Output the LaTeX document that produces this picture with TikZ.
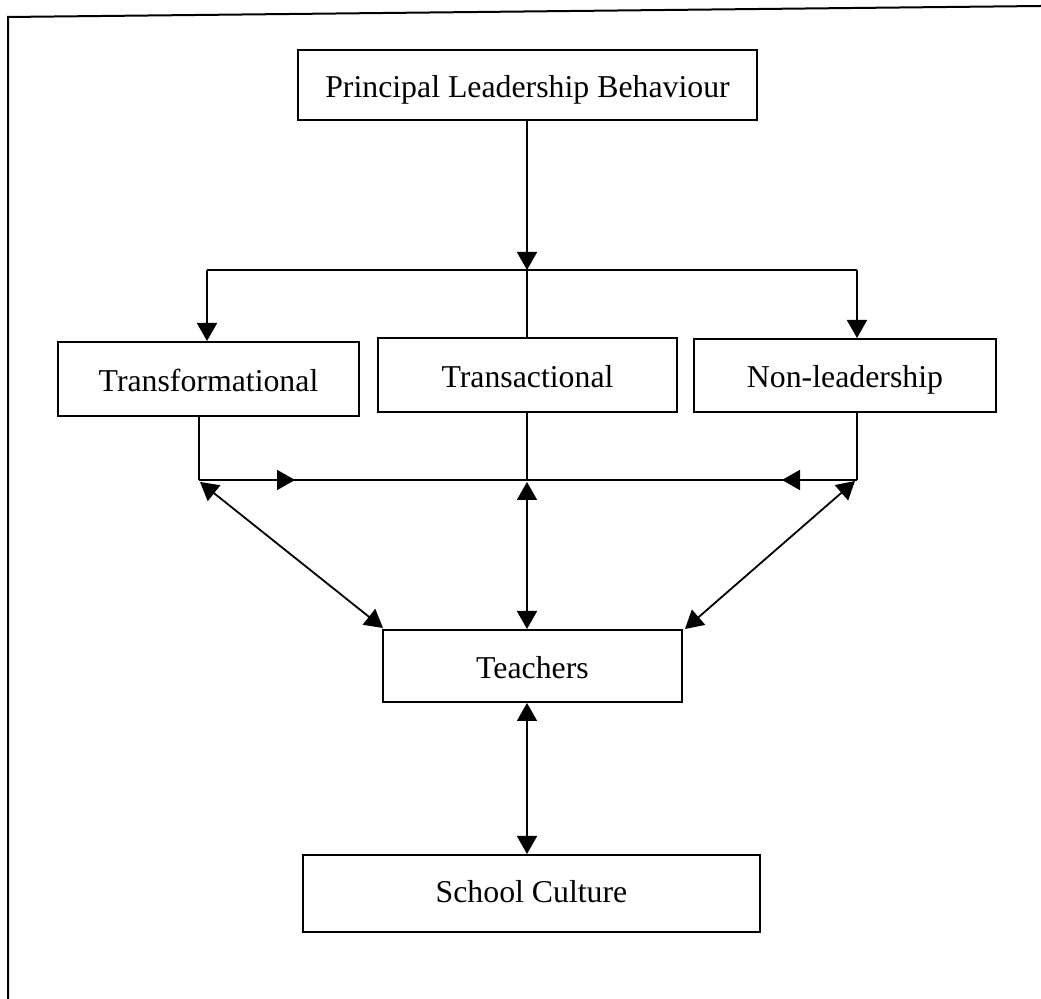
\documentclass[tikz,border=0pt]{standalone}
\usepackage{fontspec}
\setmainfont{Liberation Serif}
\usetikzlibrary{arrows.meta,decorations.markings,calc}
\begin{document}
\begin{tikzpicture}[x=0.5pt,y=-0.5pt,
  box/.style={draw,line width=1pt,inner sep=0pt,text height=12.4pt,text depth=0pt,font=\fontsize{15.9}{19}\selectfont},
  conn/.style={line width=0.9pt},
  tip/.style={-{Triangle[length=9pt,width=10pt]}},
  dbl/.style={{Triangle[length=9pt,width=10pt]}-{Triangle[length=9pt,width=10pt]}}]
\useasboundingbox (0,0) rectangle (1041,999);
% outer frame (cropped)
\draw[line width=1pt] (8,999) -- (8,17) -- (1041,6);
% boxes
\node[box,minimum width=459*0.5pt,minimum height=70*0.5pt] (P) at (527.5,85) {Principal Leadership Behaviour};
\node[box,minimum width=301*0.5pt,minimum height=74*0.5pt] (Tf) at (208.5,379) {Transformational};
\node[box,minimum width=299*0.5pt,minimum height=74*0.5pt] (Ta) at (527.5,375) {Transactional};
\node[box,minimum width=302*0.5pt,minimum height=73*0.5pt] (N) at (845,375.5) {Non-leadership};
\node[box,minimum width=299*0.5pt,minimum height=72*0.5pt] (Te) at (532.5,666) {Teachers};
\node[box,text height=9.4pt,minimum width=457*0.5pt,minimum height=77*0.5pt] (S) at (531.5,893.5) {School Culture};
% junction points
\coordinate (j0) at (527,270);
\coordinate (jL) at (207,270);
\coordinate (jR) at (857,270);
\coordinate (bL) at (199,480);
\coordinate (bM) at (527,480);
\coordinate (bR) at (857,480);
\coordinate (dL) at (200,482);
\coordinate (dM) at (527,482);
\coordinate (dR) at (855,481);
\coordinate (tL) at (383,628);
\coordinate (tR) at (685,629);
% top distribution
\draw[conn,tip] (P.south -| j0) -- (j0);
\draw[conn] (jL) -- (jR);
\draw[conn,tip] (jL) -- (Tf.north -| jL);
\draw[conn,tip] (jR) -- (N.north -| jR);
\draw[conn] (j0) -- (Ta.north -| j0);
% bottom collection
\draw[conn] (Tf.south -| bL) -- (bL);
\draw[conn] (Ta.south -| bM) -- (bM);
\draw[conn] (N.south -| bR) -- (bR);
\draw[conn,postaction={decorate},decoration={markings,
  mark=at position 48pt with {\arrow{Triangle[length=9pt,width=10pt]}},
  mark=at position 291.5pt with {\arrowreversed{Triangle[length=9pt,width=10pt]}}}] (bL) -- (bR);
% double arrows to teachers
\draw[conn,dbl] (dL) -- (tL);
\draw[conn,dbl] (dM) -- (Te.north -| dM);
\draw[conn,dbl] (dR) -- (tR);
\draw[conn,dbl] (Te.south -| dM) -- (S.north -| dM);
\end{tikzpicture}
\end{document}
